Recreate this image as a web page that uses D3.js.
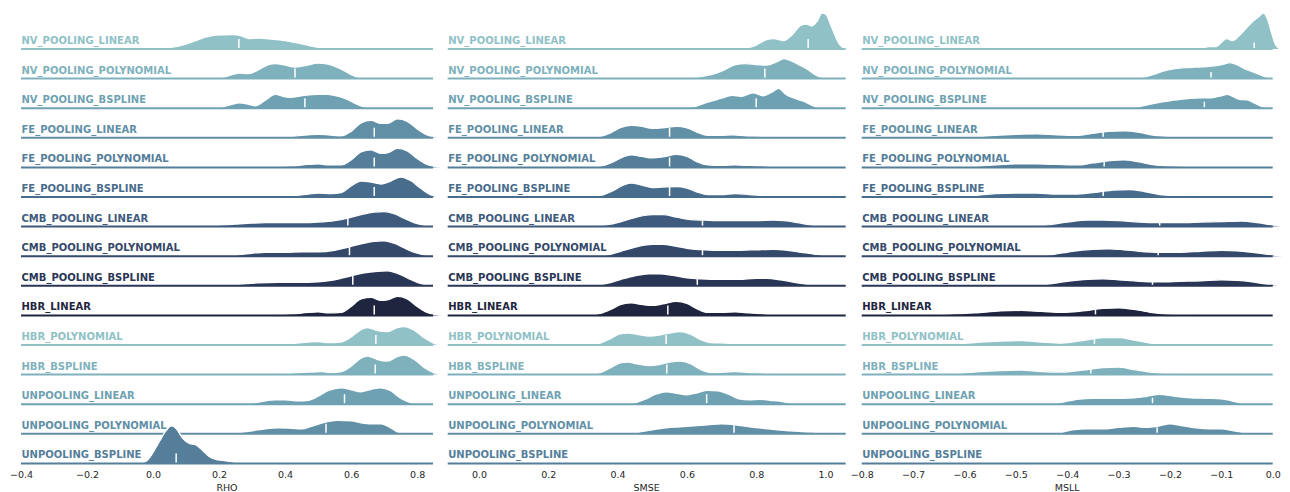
<!DOCTYPE html>
<html>
<head>
<meta charset="utf-8">
<script src="https://cdn.jsdelivr.net/npm/d3@7"></script>
<style>
  html, body { margin: 0; padding: 0; background: #fff; }
  svg { display: block; }
</style>
</head>
<body>
<svg id="chart" width="1290" height="492"></svg>
<script>
// Model names, one ridge row each (top to bottom)
const models = [
  "NV_POOLING_LINEAR", "NV_POOLING_POLYNOMIAL", "NV_POOLING_BSPLINE",
  "FE_POOLING_LINEAR", "FE_POOLING_POLYNOMIAL", "FE_POOLING_BSPLINE",
  "CMB_POOLING_LINEAR", "CMB_POOLING_POLYNOMIAL", "CMB_POOLING_BSPLINE",
  "HBR_LINEAR", "HBR_POLYNOMIAL", "HBR_BSPLINE",
  "UNPOOLING_LINEAR", "UNPOOLING_POLYNOMIAL", "UNPOOLING_BSPLINE"
];

// Kernel density estimates, [metric value, density] per model
const rhoDensity = [
  [[-0.05,0],[0,0.1],[0.05,0.3],[0.10,1.0],[0.15,2.2],[0.19,2.8],[0.24,2.9],[0.27,2.6],[0.29,2.1],[0.32,2.2],[0.36,2.0],[0.40,1.7],[0.44,1.2],[0.48,0.6],[0.52,0.2],[0.56,0]],
  [[0.20,0],[0.23,0.6],[0.26,1.1],[0.29,1.0],[0.32,1.8],[0.35,2.8],[0.37,3.0],[0.40,2.7],[0.43,2.3],[0.46,2.6],[0.50,3.1],[0.53,2.9],[0.57,1.9],[0.60,0.8],[0.63,0.1],[0.65,0]],
  [[0.20,0],[0.23,0.6],[0.26,1.1],[0.29,0.8],[0.31,0.5],[0.34,1.6],[0.37,2.8],[0.40,2.3],[0.42,2.2],[0.46,2.6],[0.50,2.8],[0.53,2.8],[0.56,2.4],[0.59,1.7],[0.62,0.7],[0.65,0]],
  [[0.30,0],[0.36,0.1],[0.42,0.3],[0.47,0.6],[0.50,0.7],[0.53,0.6],[0.57,0.4],[0.60,1.3],[0.63,3.0],[0.66,3.5],[0.69,2.9],[0.71,2.9],[0.74,3.8],[0.77,3.3],[0.80,1.8],[0.83,0.6],[0.86,0.1],[0.88,0]],
  [[0.30,0],[0.36,0.1],[0.42,0.3],[0.47,0.6],[0.50,0.7],[0.53,0.5],[0.57,0.5],[0.60,1.5],[0.63,3.1],[0.66,3.5],[0.69,2.8],[0.71,2.9],[0.74,3.8],[0.77,3.3],[0.80,1.8],[0.83,0.6],[0.86,0.1],[0.88,0]],
  [[0.25,0],[0.32,0.1],[0.38,0.3],[0.42,0.3],[0.47,0.6],[0.50,0.8],[0.54,0.7],[0.57,0.9],[0.60,2.2],[0.63,3.2],[0.66,3.0],[0.69,2.6],[0.72,3.2],[0.75,4.0],[0.78,3.3],[0.81,1.8],[0.84,0.5],[0.87,0]],
  [[0.12,0],[0.18,0.2],[0.25,0.5],[0.30,0.7],[0.34,0.8],[0.40,0.8],[0.45,0.8],[0.50,0.9],[0.55,1.2],[0.59,1.7],[0.63,2.4],[0.67,2.9],[0.70,3.0],[0.73,2.6],[0.76,1.7],[0.79,0.8],[0.82,0.3],[0.86,0]],
  [[0.20,0],[0.25,0.2],[0.30,0.6],[0.34,0.8],[0.40,0.8],[0.45,0.9],[0.50,0.9],[0.55,1.2],[0.59,1.8],[0.63,2.5],[0.67,3.0],[0.70,3.1],[0.73,2.6],[0.76,1.7],[0.79,0.8],[0.82,0.3],[0.86,0]],
  [[0.20,0],[0.26,0.3],[0.32,0.6],[0.38,0.7],[0.44,0.7],[0.50,0.8],[0.55,1.2],[0.60,2.0],[0.64,2.6],[0.68,2.9],[0.71,3.0],[0.74,2.5],[0.77,1.6],[0.80,0.7],[0.83,0.2],[0.86,0]],
  [[0.30,0],[0.36,0.1],[0.42,0.3],[0.47,0.6],[0.50,0.7],[0.53,0.5],[0.57,0.6],[0.60,1.8],[0.63,3.3],[0.66,3.6],[0.69,3.0],[0.71,3.1],[0.74,3.8],[0.77,3.3],[0.80,1.8],[0.83,0.6],[0.86,0.1],[0.88,0]],
  [[0.30,0],[0.36,0.1],[0.42,0.3],[0.47,0.6],[0.50,0.7],[0.53,0.5],[0.57,0.6],[0.60,1.6],[0.63,3.1],[0.65,3.5],[0.68,2.9],[0.71,2.7],[0.74,3.5],[0.76,3.7],[0.79,3.0],[0.82,1.5],[0.85,0.4],[0.87,0]],
  [[0.30,0],[0.36,0.1],[0.42,0.3],[0.47,0.5],[0.51,0.6],[0.54,0.4],[0.57,0.6],[0.60,1.7],[0.63,3.3],[0.65,3.7],[0.68,3.0],[0.71,2.7],[0.74,3.6],[0.76,3.9],[0.79,3.1],[0.82,1.5],[0.85,0.4],[0.87,0]],
  [[0.28,0],[0.31,0.3],[0.34,0.7],[0.37,0.9],[0.40,0.9],[0.44,0.7],[0.47,0.8],[0.50,1.6],[0.53,2.7],[0.57,3.3],[0.60,2.9],[0.63,2.5],[0.66,3.0],[0.69,3.3],[0.72,2.7],[0.75,1.2],[0.78,0.3],[0.81,0]],
  [[0.20,0],[0.25,0.2],[0.30,0.6],[0.34,1.0],[0.38,1.2],[0.42,1.1],[0.45,1.0],[0.48,1.5],[0.52,2.3],[0.56,2.7],[0.60,2.6],[0.63,2.2],[0.66,2.0],[0.69,2.0],[0.715,1.4],[0.74,0.4],[0.76,0]],
  [[-0.04,0],[-0.02,0.5],[0.0,2.2],[0.02,4.5],[0.04,6.6],[0.055,7.5],[0.07,7.0],[0.09,5.0],[0.11,4.0],[0.13,3.7],[0.15,2.6],[0.17,1.4],[0.19,0.8],[0.21,0.6],[0.23,0.4],[0.25,0.2],[0.27,0]]
];
const rhoMedian = [0.26, 0.43, 0.46, 0.67, 0.67, 0.67, 0.59, 0.595, 0.605, 0.67, 0.675, 0.673, 0.58, 0.524, 0.07];

const smseDensity = [
  [[0.74,0],[0.77,0.2],[0.80,0.8],[0.83,1.9],[0.85,2.1],[0.88,1.7],[0.90,2.6],[0.93,4.8],[0.945,5.0],[0.96,4.6],[0.975,5.5],[0.99,7.2],[1.00,7.0],[1.02,4.0],[1.04,1.0],[1.06,0]],
  [[0.60,0],[0.64,0.4],[0.68,1.0],[0.71,1.8],[0.74,2.8],[0.77,3.0],[0.80,2.8],[0.83,2.7],[0.86,3.4],[0.88,4.0],[0.90,3.6],[0.92,2.9],[0.95,1.8],[0.97,0.8],[0.99,0.2],[1.01,0]],
  [[0.59,0],[0.63,0.5],[0.66,1.2],[0.70,2.0],[0.73,2.6],[0.76,2.4],[0.79,3.1],[0.82,2.5],[0.845,3.2],[0.865,4.0],[0.885,2.8],[0.91,2.0],[0.94,1.3],[0.96,0.6],[0.98,0.1],[1.0,0]],
  [[0.32,0],[0.35,0.3],[0.38,1.0],[0.41,2.1],[0.44,2.5],[0.47,2.3],[0.50,1.9],[0.53,2.0],[0.57,2.3],[0.60,2.0],[0.63,1.1],[0.66,0.5],[0.70,0.5],[0.73,0.6],[0.77,0.4],[0.82,0.3],[0.86,0.1],[0.89,0]],
  [[0.33,0],[0.36,0.4],[0.39,1.2],[0.42,2.2],[0.44,2.5],[0.47,2.2],[0.50,1.9],[0.53,2.1],[0.57,2.6],[0.60,2.2],[0.63,1.1],[0.66,0.5],[0.70,0.4],[0.74,0.5],[0.78,0.4],[0.82,0.3],[0.86,0.1],[0.89,0]],
  [[0.33,0],[0.36,0.5],[0.39,1.4],[0.42,2.5],[0.44,2.8],[0.47,2.4],[0.50,1.9],[0.53,2.0],[0.57,2.1],[0.60,1.8],[0.63,1.0],[0.66,0.5],[0.70,0.5],[0.74,0.7],[0.78,0.5],[0.82,0.3],[0.86,0.1],[0.89,0]],
  [[0.32,0],[0.38,0.5],[0.42,1.2],[0.46,2.0],[0.50,2.4],[0.53,2.4],[0.57,1.9],[0.61,1.4],[0.65,1.3],[0.70,1.2],[0.75,1.2],[0.80,1.2],[0.85,1.3],[0.88,1.2],[0.92,0.8],[0.96,0.3],[1.0,0]],
  [[0.34,0],[0.38,0.4],[0.42,1.2],[0.46,2.0],[0.50,2.4],[0.53,2.4],[0.57,2.0],[0.61,1.5],[0.65,1.3],[0.70,1.2],[0.75,1.2],[0.80,1.3],[0.85,1.4],[0.89,1.2],[0.93,0.8],[0.97,0.4],[1.01,0.1],[1.04,0]],
  [[0.33,0],[0.37,0.5],[0.41,1.3],[0.45,2.0],[0.49,2.4],[0.52,2.4],[0.56,2.1],[0.60,1.6],[0.64,1.4],[0.70,1.3],[0.75,1.3],[0.80,1.5],[0.83,1.5],[0.87,1.2],[0.91,0.7],[0.95,0.3],[0.99,0.1],[1.02,0]],
  [[0.32,0],[0.35,0.4],[0.38,1.2],[0.41,2.2],[0.44,2.5],[0.47,2.2],[0.50,2.0],[0.53,2.3],[0.57,2.8],[0.60,2.4],[0.63,1.3],[0.66,0.6],[0.70,0.6],[0.74,0.7],[0.78,0.5],[0.82,0.3],[0.86,0.1],[0.89,0]],
  [[0.32,0],[0.35,0.4],[0.38,1.3],[0.41,2.3],[0.43,2.4],[0.46,2.1],[0.49,1.8],[0.52,2.0],[0.55,2.4],[0.58,2.7],[0.61,2.2],[0.64,1.1],[0.67,0.5],[0.71,0.4],[0.75,0.3],[0.80,0.3],[0.85,0.1],[0.89,0]],
  [[0.32,0],[0.35,0.4],[0.38,1.4],[0.41,2.4],[0.43,2.5],[0.46,2.1],[0.49,1.8],[0.52,2.0],[0.55,2.5],[0.58,2.7],[0.61,2.2],[0.64,1.0],[0.67,0.4],[0.71,0.5],[0.74,0.6],[0.78,0.4],[0.82,0.3],[0.86,0.1],[0.89,0]],
  [[0.42,0],[0.45,0.3],[0.48,1.0],[0.51,2.0],[0.54,2.5],[0.57,2.2],[0.60,1.9],[0.63,2.3],[0.66,2.8],[0.69,2.7],[0.72,2.0],[0.75,1.1],[0.78,0.9],[0.81,1.0],[0.84,0.8],[0.87,0.6],[0.90,0.2],[0.93,0]],
  [[0.42,0],[0.46,0.3],[0.50,0.8],[0.54,1.2],[0.58,1.4],[0.62,1.6],[0.66,1.8],[0.70,2.0],[0.74,1.8],[0.78,1.4],[0.82,1.1],[0.86,0.8],[0.90,0.6],[0.94,0.4],[0.98,0.3],[1.02,0.1],[1.06,0]],
  []
];
const smseMedian = [0.95, 0.825, 0.80, 0.55, 0.55, 0.55, 0.645, 0.645, 0.63, 0.545, 0.54, 0.542, 0.657, 0.736, null];

const msllDensity = [
  [[-0.16,0],[-0.14,0.1],[-0.125,0.5],[-0.11,0.5],[-0.10,1.3],[-0.09,2.1],[-0.078,1.7],[-0.066,2.6],[-0.054,3.9],[-0.04,5.4],[-0.028,6.4],[-0.018,7.2],[-0.01,6.0],[-0.002,3.2],[0.006,0.8],[0.015,0]],
  [[-0.27,0],[-0.25,0.3],[-0.23,0.9],[-0.21,1.6],[-0.19,2.0],[-0.17,2.2],[-0.15,2.3],[-0.13,2.4],[-0.11,2.6],[-0.095,2.9],[-0.083,3.2],[-0.07,2.8],[-0.055,2.0],[-0.04,1.4],[-0.025,0.8],[-0.01,0.2],[0.0,0]],
  [[-0.28,0],[-0.26,0.3],[-0.24,0.8],[-0.22,1.2],[-0.20,1.5],[-0.18,1.8],[-0.16,2.0],[-0.14,2.1],[-0.12,2.1],[-0.10,2.5],[-0.088,2.8],[-0.075,2.2],[-0.065,1.8],[-0.05,1.7],[-0.035,1.0],[-0.02,0.3],[-0.005,0]],
  [[-0.62,0],[-0.58,0.2],[-0.54,0.5],[-0.50,0.7],[-0.46,0.8],[-0.42,0.6],[-0.38,0.5],[-0.35,0.9],[-0.32,1.3],[-0.29,1.4],[-0.26,1.1],[-0.23,0.5],[-0.20,0.3],[-0.15,0.2],[-0.10,0.1],[-0.05,0]],
  [[-0.62,0],[-0.58,0.2],[-0.54,0.5],[-0.50,0.7],[-0.46,0.7],[-0.42,0.6],[-0.38,0.5],[-0.35,0.9],[-0.32,1.3],[-0.29,1.5],[-0.26,1.1],[-0.23,0.5],[-0.20,0.3],[-0.15,0.2],[-0.10,0.1],[-0.05,0]],
  [[-0.62,0],[-0.58,0.3],[-0.54,0.7],[-0.50,0.8],[-0.46,0.8],[-0.42,0.6],[-0.38,0.6],[-0.34,1.0],[-0.31,1.4],[-0.28,1.5],[-0.25,1.1],[-0.22,0.5],[-0.19,0.3],[-0.14,0.2],[-0.09,0.1],[-0.04,0]],
  [[-0.47,0],[-0.44,0.3],[-0.40,0.9],[-0.36,1.3],[-0.33,1.3],[-0.30,1.2],[-0.26,0.9],[-0.22,0.8],[-0.18,0.8],[-0.14,0.9],[-0.10,1.0],[-0.06,1.1],[-0.03,0.8],[0.0,0.3],[0.02,0]],
  [[-0.46,0],[-0.43,0.3],[-0.39,1.0],[-0.35,1.4],[-0.32,1.5],[-0.29,1.3],[-0.26,1.0],[-0.22,0.8],[-0.18,0.8],[-0.14,1.0],[-0.10,1.2],[-0.07,1.1],[-0.04,0.8],[-0.01,0.4],[0.02,0]],
  [[-0.47,0],[-0.44,0.3],[-0.40,0.9],[-0.36,1.3],[-0.33,1.4],[-0.30,1.2],[-0.26,0.9],[-0.22,0.8],[-0.18,0.9],[-0.14,1.0],[-0.10,1.2],[-0.07,1.1],[-0.04,0.8],[-0.01,0.3],[0.02,0]],
  [[-0.70,0],[-0.64,0.2],[-0.58,0.5],[-0.53,0.9],[-0.49,1.0],[-0.45,0.8],[-0.41,0.6],[-0.37,0.9],[-0.33,1.4],[-0.30,1.5],[-0.27,1.2],[-0.23,0.5],[-0.19,0.2],[-0.14,0.1],[-0.09,0]],
  [[-0.68,0],[-0.62,0.2],[-0.57,0.6],[-0.53,0.8],[-0.49,0.9],[-0.45,0.6],[-0.41,0.4],[-0.37,0.9],[-0.33,1.5],[-0.30,1.5],[-0.27,1.0],[-0.23,0.3],[-0.18,0.1],[-0.12,0.05],[-0.07,0]],
  [[-0.68,0],[-0.62,0.2],[-0.57,0.6],[-0.53,0.8],[-0.49,0.9],[-0.45,0.6],[-0.41,0.5],[-0.37,0.9],[-0.33,1.4],[-0.30,1.5],[-0.27,1.0],[-0.23,0.4],[-0.18,0.1],[-0.12,0.05],[-0.07,0]],
  [[-0.43,0],[-0.41,0.4],[-0.38,1.0],[-0.35,1.2],[-0.31,1.2],[-0.27,1.3],[-0.245,1.6],[-0.22,2.0],[-0.19,1.6],[-0.16,1.3],[-0.13,1.2],[-0.10,1.1],[-0.08,0.7],[-0.06,0.2],[-0.045,0]],
  [[-0.43,0],[-0.41,0.3],[-0.39,0.8],[-0.36,1.0],[-0.33,1.0],[-0.30,1.3],[-0.27,1.5],[-0.25,1.3],[-0.22,1.6],[-0.20,2.0],[-0.18,1.7],[-0.15,1.2],[-0.12,1.0],[-0.10,1.0],[-0.08,0.7],[-0.06,0.3],[-0.04,0]],
  []
];
const msllMedian = [-0.036, -0.12, -0.133, -0.33, -0.328, -0.33, -0.22, -0.223, -0.234, -0.345, -0.347, -0.354, -0.234, -0.225, null];

// Tick labels for each metric axis
const rhoTicks = [-0.4, -0.2, 0.0, 0.2, 0.4, 0.6, 0.8];
const smseTicks = [0.0, 0.2, 0.4, 0.6, 0.8, 1.0];
const msllTicks = [-0.8, -0.7, -0.6, -0.5, -0.4, -0.3, -0.2, -0.1, 0.0];

// Cubehelix palette (10 steps, light to dark), reused cyclically over the rows
const palette = ["#8fc1c6", "#7eb1bc", "#6ea1b2", "#608fa6", "#547e9a",
                 "#486c8c", "#3e5a7c", "#34486a", "#2a3656", "#1f253f"];

const svg = d3.select("#chart");

// Row baselines
const rowY = d3.scalePoint().domain(models).range([49, 463.4]);
// Density to ridge height, shared by all panels
const ridgeH = d3.scaleLinear().domain([0, 8]).range([0, 40]);

const panels = [
  { title: "RHO",  density: rhoDensity,  median: rhoMedian,  ticks: rhoTicks,
    domain: [-0.4, 0.848], range: [21, 433], markH: 1.8, fmt: d3.format(".1f") },
  { title: "SMSE", density: smseDensity, median: smseMedian, ticks: smseTicks,
    domain: [-0.0903, 1.0583], range: [447.7, 845.7], markH: 1.8, fmt: d3.format(".1f") },
  { title: "MSLL", density: msllDensity, median: msllMedian, ticks: msllTicks,
    domain: [-0.8, 0.0], range: [861.7, 1272.7], markH: 1.1, fmt: d3.format(".1f") }
];

const fontFamily = "'DejaVu Sans', sans-serif";

panels.forEach(p => {
  const x = d3.scaleLinear().domain(p.domain).range(p.range);
  const panel = svg.append("g");

  models.forEach((name, i) => {
    const base = rowY(name);
    const color = palette[i % palette.length];
    const row = panel.append("g");
    const pts = p.density[i];

    if (pts.length) {
      const area = d3.area()
        .x(d => x(d[0]))
        .y0(base)
        .y1(d => base - ridgeH(d[1]))
        .curve(d3.curveMonotoneX);
      const line = d3.line()
        .x(d => x(d[0]))
        .y(d => base - ridgeH(d[1]))
        .curve(d3.curveMonotoneX);

      row.append("path")
        .attr("d", area(pts))
        .attr("fill", color);
      row.append("path")
        .attr("d", line(pts))
        .attr("fill", "none")
        .attr("stroke", "#fff")
        .attr("stroke-width", 1.4);
    }

    // Reference line at zero density
    row.append("line")
      .attr("x1", p.range[0]).attr("x2", p.range[1])
      .attr("y1", base).attr("y2", base)
      .attr("stroke", color)
      .attr("stroke-width", 2);

    // Median marker
    const m = p.median[i];
    if (m !== null) {
      row.append("line")
        .attr("x1", x(m)).attr("x2", x(m))
        .attr("y1", base - 1)
        .attr("y2", base - 1 - ridgeH(p.markH))
        .attr("stroke", "#fff")
        .attr("stroke-width", 1.5);
    }

    // Row label
    row.append("text")
      .attr("x", p.range[0] + 0.5)
      .attr("y", base - 5)
      .attr("fill", color)
      .attr("font-family", fontFamily)
      .attr("font-weight", "bold")
      .attr("font-size", 10)
      .text(name);
  });

  // Metric axis
  const axis = d3.axisBottom(x)
    .tickValues(p.ticks)
    .tickSize(0)
    .tickPadding(8)
    .tickFormat(d => p.fmt(d).replace("-", "\u2212"));
  const gAxis = panel.append("g")
    .attr("transform", `translate(0,${rowY(models[models.length - 1])})`)
    .call(axis);
  gAxis.select(".domain").remove();
  gAxis.selectAll("text")
    .attr("fill", "#262626")
    .attr("font-family", fontFamily)
    .attr("font-size", 9.5);

  panel.append("text")
    .attr("x", (p.range[0] + p.range[1]) / 2)
    .attr("y", 491)
    .attr("text-anchor", "middle")
    .attr("fill", "#262626")
    .attr("font-family", fontFamily)
    .attr("font-size", 9.5)
    .text(p.title);
});
</script>
</body>
</html>
